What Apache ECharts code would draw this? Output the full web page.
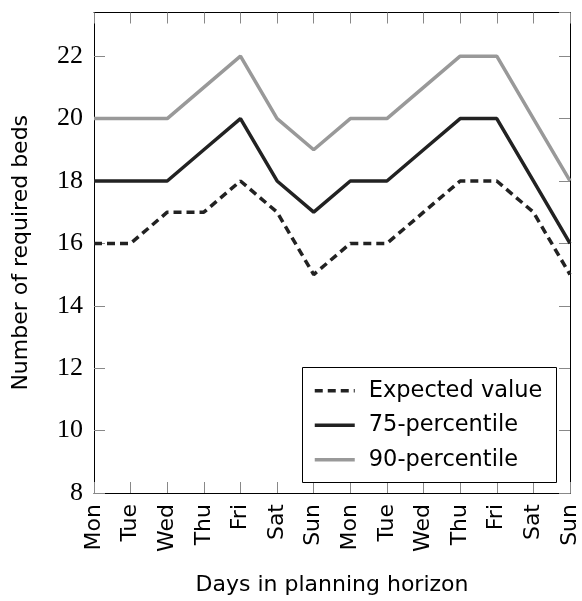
<!DOCTYPE html>
<html>
<head>
<meta charset="utf-8">
<script src="https://cdn.jsdelivr.net/npm/echarts@6/dist/echarts.min.js"></script>
<style>html,body{margin:0;padding:0;background:#fff;}#c{width:582px;height:601px;}</style>
</head>
<body>
<div id="c"></div>
<script>
var categories = ['Mon','Tue','Wed','Thu','Fri','Sat','Sun','Mon','Tue','Wed','Thu','Fri','Sat','Sun'];
var expectedValue = [16,16,17,17,18,17,15,16,16,17,18,18,17,15];
var percentile75 = [18,18,18,19,20,18,17,18,18,19,20,20,18,16];
var percentile90 = [20,20,20,21,22,20,19,20,20,21,22,22,20,18];
var yTicks = [8,10,12,14,16,18,20,22];

var chart = echarts.init(document.getElementById('c'), null, {renderer:'canvas'});
var sans = 'DejaVu Sans';
var tickStyle = {show:true, inside:true, length:11, lineStyle:{color:'#888', width:1}};
var axisLineStyle = {show:true, onZero:false, lineStyle:{color:'#000', width:1}};
chart.setOption({
  animation:false,
  grid:{left:94, right:12, top:12.5, bottom:104, containLabel:false},
  graphic:[{
    type:'rect', left:302, top:367, z:100,
    shape:{width:254, height:115},
    style:{fill:'#fff', stroke:'#000', lineWidth:1}
  }],
  xAxis:[{
    type:'category', data:categories, boundaryGap:false, position:'bottom',
    axisLine:axisLineStyle, axisTick:tickStyle,
    axisLabel:{rotate:90, fontFamily:sans, fontSize:22, color:'#000', margin:11, interval:0},
    name:'Days in planning horizon', nameLocation:'middle', nameGap:81,
    nameTextStyle:{fontFamily:sans, fontSize:22, color:'#000'},
    splitLine:{show:false}
  },{
    type:'category', data:categories, boundaryGap:false, position:'top',
    axisLine:axisLineStyle, axisTick:tickStyle, axisLabel:{show:false}, splitLine:{show:false}
  }],
  yAxis:[{
    type:'value', min:8, max:23.4, interval:2, position:'left',
    axisLine:axisLineStyle, axisTick:tickStyle,
    axisLabel:{fontFamily:'Liberation Serif', fontSize:26, color:'#000', margin:11, showMaxLabel:false,
      formatter:function(v){return yTicks.indexOf(v)>=0 ? String(v) : '';}},
    name:'Number of required beds', nameLocation:'middle', nameGap:62, nameRotate:90,
    nameTextStyle:{fontFamily:sans, fontSize:22, color:'#000'},
    splitLine:{show:false}
  },{
    type:'value', min:8, max:23.4, interval:2, position:'right',
    axisLine:axisLineStyle, axisTick:tickStyle, axisLabel:{show:false}, splitLine:{show:false}
  }],
  legend:{
    orient:'vertical', left:313, top:373.5, z:110,
    itemWidth:40, itemHeight:4, itemGap:0,
    padding:0,
    lineStyle:{width:3.5},
    itemStyle:{opacity:0},
    textStyle:{fontFamily:sans, fontSize:22.5, color:'#000', lineHeight:34.5, padding:[0,0,0,9]},
    data:['Expected value','75-percentile','90-percentile']
  },
  series:[
    {name:'Expected value', type:'line', data:expectedValue, symbol:'none',
     lineStyle:{color:'#222', width:3.5, type:[8,5]}, itemStyle:{color:'#222'}},
    {name:'75-percentile', type:'line', data:percentile75, symbol:'none',
     lineStyle:{color:'#222', width:3.5}, itemStyle:{color:'#222'}},
    {name:'90-percentile', type:'line', data:percentile90, symbol:'none',
     lineStyle:{color:'#999', width:3.5}, itemStyle:{color:'#999'}}
  ]
});
</script>
</body>
</html>
